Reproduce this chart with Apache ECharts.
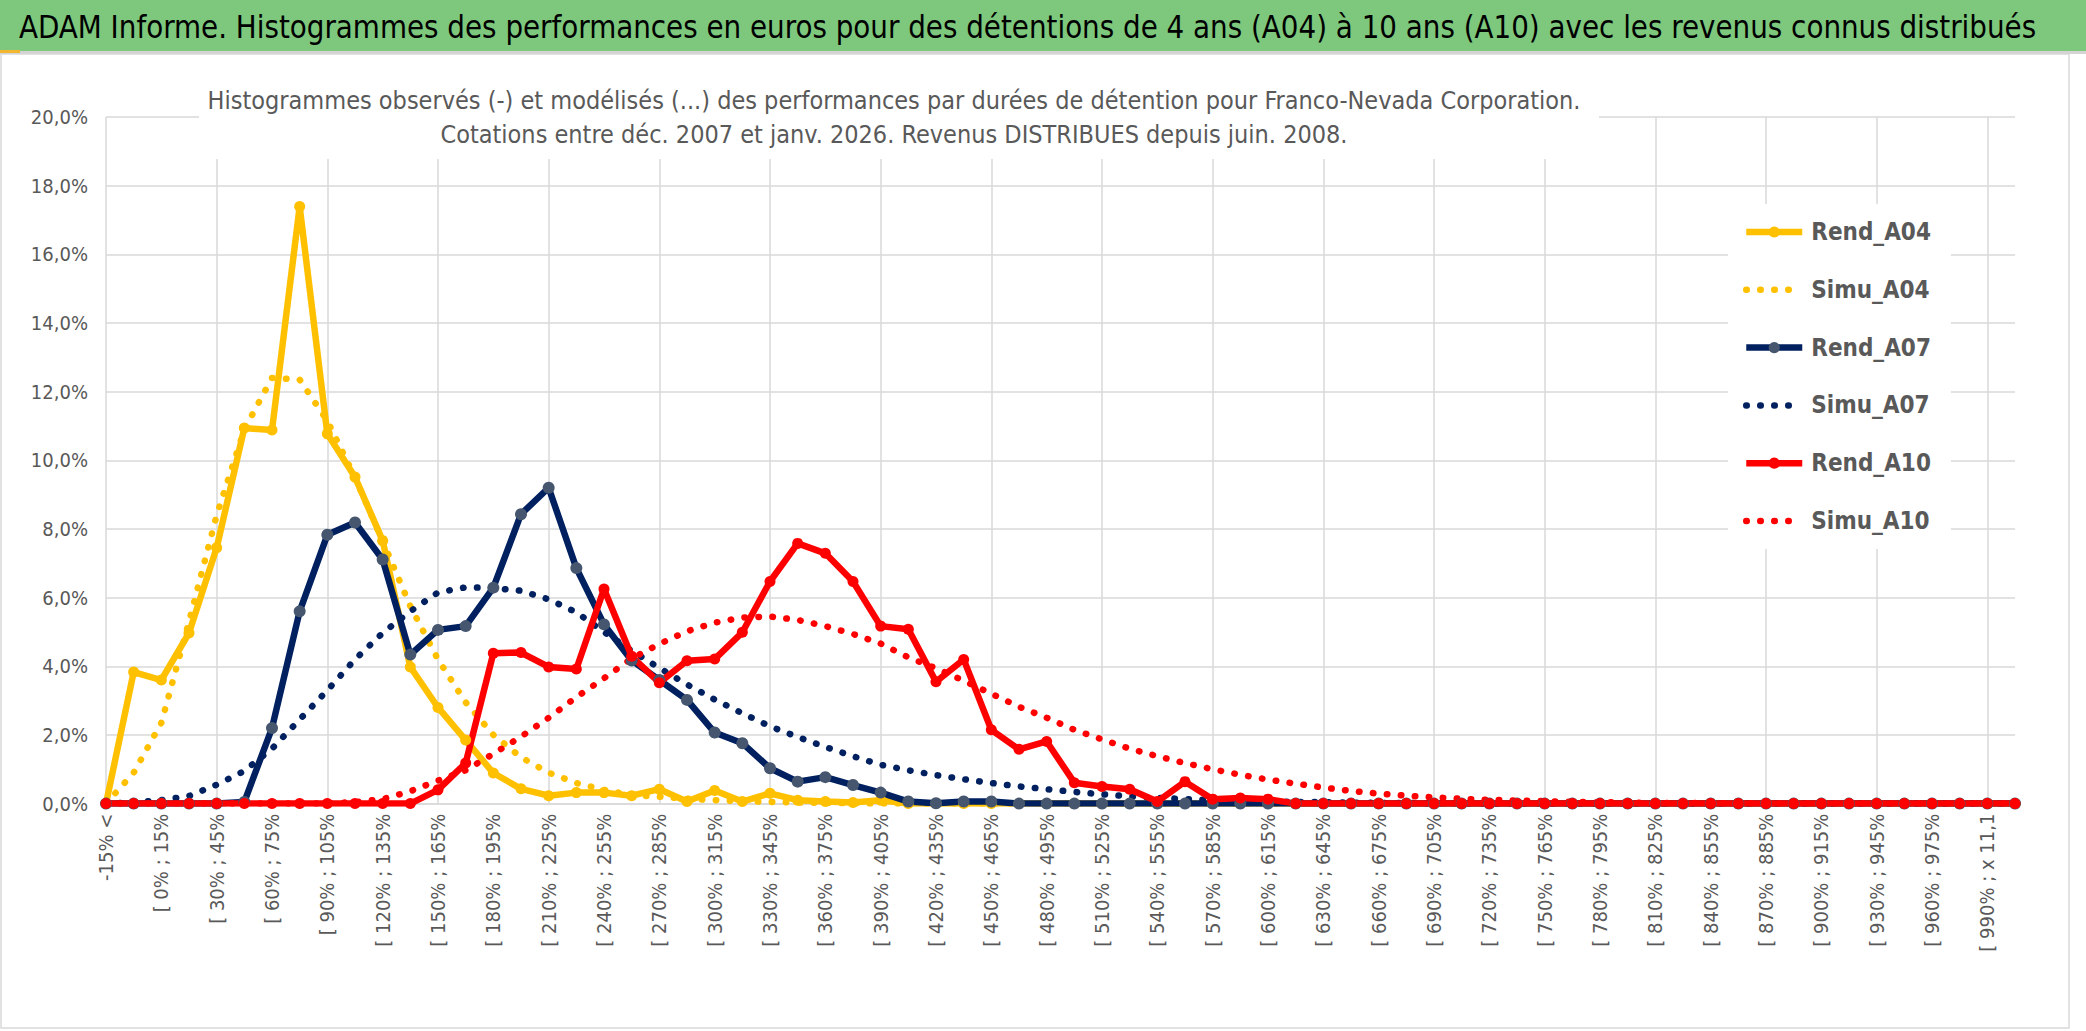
<!DOCTYPE html>
<html><head><meta charset="utf-8">
<script src="https://cdn.jsdelivr.net/npm/echarts@6/dist/echarts.min.js"></script>
<style>html,body{margin:0;padding:0;background:#fff;}#c{width:2086px;height:1031px;}</style>
</head><body><div id="c"></div>
<script>
const categories = ["-15% <","[ -15% ; 0%","[ 0% ; 15%","[ 15% ; 30%","[ 30% ; 45%","[ 45% ; 60%","[ 60% ; 75%","[ 75% ; 90%","[ 90% ; 105%","[ 105% ; 120%",
"[ 120% ; 135%","[ 135% ; 150%","[ 150% ; 165%","[ 165% ; 180%","[ 180% ; 195%","[ 195% ; 210%","[ 210% ; 225%","[ 225% ; 240%","[ 240% ; 255%","[ 255% ; 270%",
"[ 270% ; 285%","[ 285% ; 300%","[ 300% ; 315%","[ 315% ; 330%","[ 330% ; 345%","[ 345% ; 360%","[ 360% ; 375%","[ 375% ; 390%","[ 390% ; 405%","[ 405% ; 420%",
"[ 420% ; 435%","[ 435% ; 450%","[ 450% ; 465%","[ 465% ; 480%","[ 480% ; 495%","[ 495% ; 510%","[ 510% ; 525%","[ 525% ; 540%","[ 540% ; 555%","[ 555% ; 570%",
"[ 570% ; 585%","[ 585% ; 600%","[ 600% ; 615%","[ 615% ; 630%","[ 630% ; 645%","[ 645% ; 660%","[ 660% ; 675%","[ 675% ; 690%","[ 690% ; 705%","[ 705% ; 720%",
"[ 720% ; 735%","[ 735% ; 750%","[ 750% ; 765%","[ 765% ; 780%","[ 780% ; 795%","[ 795% ; 810%","[ 810% ; 825%","[ 825% ; 840%","[ 840% ; 855%","[ 855% ; 870%",
"[ 870% ; 885%","[ 885% ; 900%","[ 900% ; 915%","[ 915% ; 930%","[ 930% ; 945%","[ 945% ; 960%","[ 960% ; 975%","[ 975% ; 990%","[ 990% ; x 11,1","x 11,1 <"];

const rendA04 = [0,3.83,3.6,4.97,7.45,10.94,10.88,17.39,10.77,9.51,
7.66,3.98,2.8,1.85,0.89,0.43,0.23,0.32,0.32,0.23,
0.42,0.06,0.38,0.06,0.3,0.1,0.06,0.03,0.1,0,
0,0,0,0,0,0,0,0,0,0, 0,0,0,0,0,0,0,0,0,0, 0,0,0,0,0,0,0,0,0,0, 0,0,0,0,0,0,0,0,0,0];
const simuA04 = [0,0.9,2.35,5.3,8.4,10.9,12.4,12.35,11.15,9.5,
7.65,5.75,4.2,2.95,2.0,1.35,0.9,0.6,0.4,0.25,
0.2,0.14,0.1,0.07,0.05,0.03,0.02,0.01,0,0,
0,0,0,0,0,0,0,0,0,0, 0,0,0,0,0,0,0,0,0,0, 0,0,0,0,0,0,0,0,0,0, 0,0,0,0,0,0,0,0,0,0];
const rendA07 = [0,0,0,0,0,0.05,2.2,5.6,7.83,8.19,
7.11,4.34,5.06,5.17,6.29,8.43,9.2,6.86,5.22,4.17,
3.6,3.02,2.07,1.76,1.03,0.64,0.77,0.54,0.32,0.06,
0.01,0.06,0.06,0,0,0,0,0,0,0, 0,0,0,0,0,0,0,0,0,0, 0,0,0,0,0,0,0,0,0,0, 0,0,0,0,0,0,0,0,0,0];
const simuA07 = [0,0.03,0.1,0.22,0.55,0.95,1.6,2.45,3.3,4.2,
4.97,5.6,6.15,6.3,6.28,6.2,5.95,5.57,5.0,4.45,
3.95,3.47,3.03,2.63,2.25,1.94,1.65,1.38,1.13,0.97,
0.83,0.71,0.6,0.5,0.42,0.34,0.27,0.21,0.17,0.13,
0.1,0.08,0.06,0.05,0.04,0.03,0.02,0.02,0.01,0.01,
0,0,0,0,0,0,0,0,0,0, 0,0,0,0,0,0,0,0,0,0];
const rendA10 = [0,0,0,0,0,0,0,0,0,0,
0,0,0.4,1.18,4.38,4.4,3.98,3.92,6.25,4.29,
3.52,4.16,4.21,4.99,6.47,7.58,7.29,6.47,5.17,5.08,
3.55,4.2,2.15,1.58,1.81,0.61,0.5,0.42,0.06,0.64,
0.13,0.16,0.13,0,0,0,0,0,0,0, 0,0,0,0,0,0,0,0,0,0, 0,0,0,0,0,0,0,0,0,0];
const simuA10 = [0,0,0,0,0,0,0,0,0.01,0.04,
0.13,0.36,0.67,0.97,1.45,1.95,2.5,3.1,3.65,4.23,
4.65,5.02,5.27,5.42,5.45,5.35,5.17,4.94,4.66,4.26,
3.94,3.58,3.2,2.82,2.5,2.15,1.87,1.6,1.38,1.18,
1.0,0.84,0.7,0.58,0.47,0.37,0.29,0.23,0.18,0.14,
0.11,0.09,0.07,0.05,0.04,0.03,0.02,0.02,0.01,0.01,
0.01,0,0,0,0,0,0,0,0,0];

const seriesNames = ["Rend_A04","Simu_A04","Rend_A07","Simu_A07","Rend_A10","Simu_A10"];
const mainTitle = "ADAM Informe. Histogrammes des performances en euros pour des détentions de 4 ans (A04) à 10 ans (A10) avec les revenus connus distribués";
const subTitle1 = "Histogrammes observés (-) et modélisés (...) des performances par durées de détention pour Franco-Nevada Corporation.";
const subTitle2 = "Cotations entre déc. 2007 et janv. 2026. Revenus DISTRIBUES depuis juin. 2008.";

const FONT = "'DejaVu Sans Condensed','Noto Sans',sans-serif";
const GOLD = '#FFC000', NAVY = '#002060', NAVYM = '#46566E', RED = '#FF0000';
const dotStyle = c => ({color: c, width: 6.5, type: [0.5, 13.5], cap: 'round'});

const chart = echarts.init(document.getElementById('c'), null, {renderer: 'svg'});
chart.setOption({
  animation: false,
  backgroundColor: '#fff',
  grid: {left: 106, top: 117, width: 1909, height: 686.6, containLabel: false},
  xAxis: {
    type: 'category', data: categories, boundaryGap: false,
    axisLine: {show: true, lineStyle: {color: '#D9D9D9', width: 1.5}},
    axisTick: {show: false},
    axisLabel: {interval: 1, rotate: 90, color: '#595959', fontFamily: FONT, fontSize: 20, margin: 10},
    splitLine: {show: true, interval: 3, lineStyle: {color: '#D9D9D9', width: 1.5}}
  },
  yAxis: {
    type: 'value', min: 0, max: 20, interval: 2,
    axisLine: {show: false}, axisTick: {show: false},
    axisLabel: {color: '#595959', fontFamily: FONT, fontSize: 20, margin: 18,
      formatter: v => v.toFixed(1).replace('.', ',') + '%'},
    splitLine: {lineStyle: {color: '#D9D9D9', width: 1.5}}
  },
  legend: {
    orient: 'vertical', left: 1728, top: 204, padding: [16, 20, 16, 15],
    backgroundColor: '#fff',
    itemWidth: 56, itemHeight: 14, itemGap: 33.8,
    lineStyle: {width: 'inherit', type: 'inherit', cap: 'inherit'},
    data: [
      {name: seriesNames[0]},
      {name: seriesNames[1], itemStyle: {opacity: 0}},
      {name: seriesNames[2]},
      {name: seriesNames[3], itemStyle: {opacity: 0}},
      {name: seriesNames[4]},
      {name: seriesNames[5], itemStyle: {opacity: 0}}
    ],
    textStyle: {color: '#595959', fontFamily: FONT, fontSize: 24, fontWeight: 'bold', lineHeight: 24, padding: [0, 0, 0, 4]}
  },
  graphic: [
    {type: 'rect', z: 5, shape: {x: 0, y: 0, width: 2086, height: 51}, style: {fill: '#7DC87D'}},
    {type: 'rect', z: 5, shape: {x: 0, y: 51, width: 2086, height: 3}, style: {fill: '#D4D4D4'}},
    {type: 'rect', z: 6, shape: {x: 0, y: 50, width: 20, height: 3}, style: {fill: '#F2B630'}},
    {type: 'rect', z: 4, shape: {x: 1, y: 54, width: 2068, height: 974}, style: {fill: 'none', stroke: '#D9D9D9', lineWidth: 1.5}},
    {type: 'text', z: 7, x: 19, y: 27, scaleX: 0.965, style: {text: mainTitle, font: '32px ' + FONT, fill: '#000', textVerticalAlign: 'middle'}},
    {type: 'rect', z: 5, shape: {x: 199, y: 60, width: 1400, height: 99}, style: {fill: '#fff'}},
    {type: 'text', z: 7, x: 894, y: 100, style: {text: subTitle1, font: '25px ' + FONT, fill: '#595959', textAlign: 'center', textVerticalAlign: 'middle'}},
    {type: 'text', z: 7, x: 894, y: 134, style: {text: subTitle2, font: '25px ' + FONT, fill: '#595959', textAlign: 'center', textVerticalAlign: 'middle'}}
  ],
  series: [
    {name: seriesNames[0], type: 'line', data: rendA04, symbol: 'circle', symbolSize: 11,
      itemStyle: {color: GOLD}, lineStyle: {color: GOLD, width: 6.5}},
    {name: seriesNames[1], type: 'line', data: simuA04, symbol: 'none',
      itemStyle: {color: GOLD}, lineStyle: dotStyle(GOLD)},
    {name: seriesNames[2], type: 'line', data: rendA07, symbol: 'circle', symbolSize: 12,
      itemStyle: {color: NAVYM}, lineStyle: {color: NAVY, width: 6.5}},
    {name: seriesNames[3], type: 'line', data: simuA07, symbol: 'none',
      itemStyle: {color: NAVY}, lineStyle: dotStyle(NAVY)},
    {name: seriesNames[4], type: 'line', data: rendA10, symbol: 'circle', symbolSize: 11,
      itemStyle: {color: RED}, lineStyle: {color: RED, width: 6.5}},
    {name: seriesNames[5], type: 'line', data: simuA10, symbol: 'none',
      itemStyle: {color: RED}, lineStyle: dotStyle(RED)}
  ]
});
</script></body></html>
